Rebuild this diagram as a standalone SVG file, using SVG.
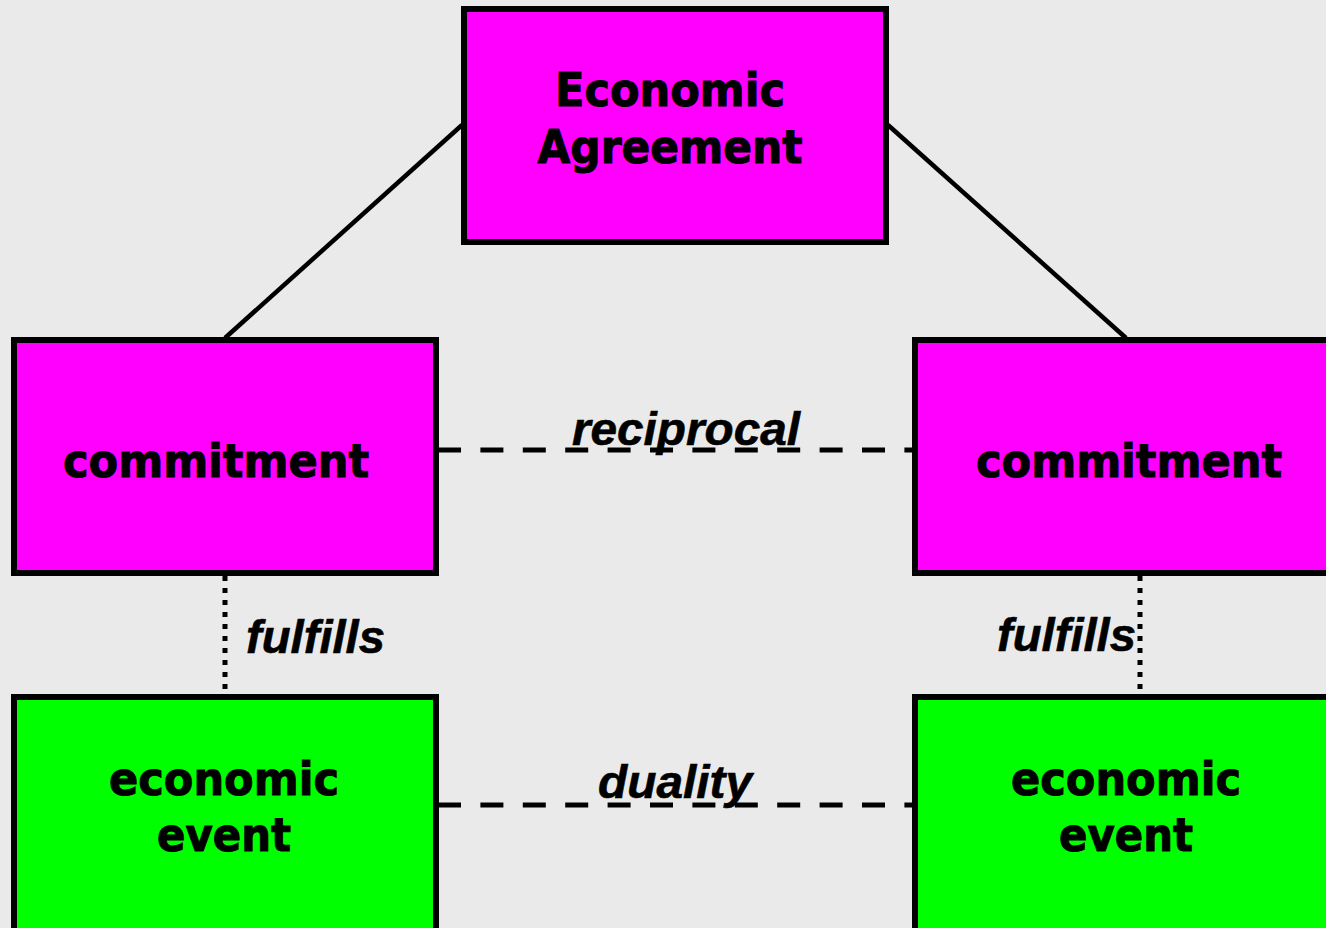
<svg xmlns="http://www.w3.org/2000/svg" width="1326" height="928" viewBox="0 0 1326 928">
<style>
.box{stroke:#000;stroke-width:6}
.mag{fill:#ff00ff}
.grn{fill:#00ff00}
.t{font-family:"DejaVu Sans","Verdana",sans-serif;font-weight:bold;font-size:46px;fill:#000;stroke:#000;stroke-width:1;text-anchor:middle}
.lbl{font-family:"Liberation Sans","Arial",sans-serif;font-weight:bold;font-style:italic;font-size:46px;fill:#000;stroke:#000;stroke-width:0.6}
.solid{stroke:#000;stroke-width:4.5;fill:none}
.dash{stroke:#000;stroke-width:5;stroke-dasharray:23 19.4;fill:none}
.dot{stroke:#000;stroke-width:5;stroke-dasharray:5 7;fill:none}
</style>
<rect width="1326" height="928" fill="#eaeaea"/>
<g id="connectors">
<line class="solid" x1="462" y1="125" x2="225" y2="338"/>
<line class="solid" x1="888" y1="125" x2="1126" y2="338"/>
<line class="dash" x1="438" y1="450" x2="913" y2="450"/>
<line class="dash" x1="438" y1="805" x2="913" y2="805"/>
<line class="dot" x1="225" y1="576" x2="225" y2="694"/>
<line class="dot" x1="1140" y1="576" x2="1140" y2="694"/>
<text class="lbl" x="572" y="445" textLength="228" lengthAdjust="spacingAndGlyphs">reciprocal</text>
<text class="lbl" x="598" y="798" textLength="154" lengthAdjust="spacingAndGlyphs">duality</text>
<text class="lbl" x="246" y="653" textLength="139" lengthAdjust="spacingAndGlyphs">fulfills</text>
<text class="lbl" x="997" y="651" textLength="139" lengthAdjust="spacingAndGlyphs">fulfills</text>
</g>
<g id="agreement">
<rect class="box mag" x="464" y="9" width="422" height="233"/>
<text class="t" x="670" y="106" textLength="230" lengthAdjust="spacingAndGlyphs">Economic</text>
<text class="t" x="670" y="163" textLength="265" lengthAdjust="spacingAndGlyphs">Agreement</text>
</g>
<g id="commitment-left">
<rect class="box mag" x="14" y="340" width="422" height="233"/>
<text class="t" x="216" y="477" textLength="306" lengthAdjust="spacingAndGlyphs">commitment</text>
</g>
<g id="commitment-right">
<rect class="box mag" x="915" y="340" width="422" height="233"/>
<text class="t" x="1129" y="477" textLength="306" lengthAdjust="spacingAndGlyphs">commitment</text>
</g>
<g id="event-left">
<rect class="box grn" x="14" y="697" width="422" height="240"/>
<text class="t" x="224" y="795" textLength="230" lengthAdjust="spacingAndGlyphs">economic</text>
<text class="t" x="224" y="851" textLength="134" lengthAdjust="spacingAndGlyphs">event</text>
</g>
<g id="event-right">
<rect class="box grn" x="915" y="697" width="422" height="240"/>
<text class="t" x="1126" y="795" textLength="230" lengthAdjust="spacingAndGlyphs">economic</text>
<text class="t" x="1126" y="851" textLength="134" lengthAdjust="spacingAndGlyphs">event</text>
</g>
</svg>
